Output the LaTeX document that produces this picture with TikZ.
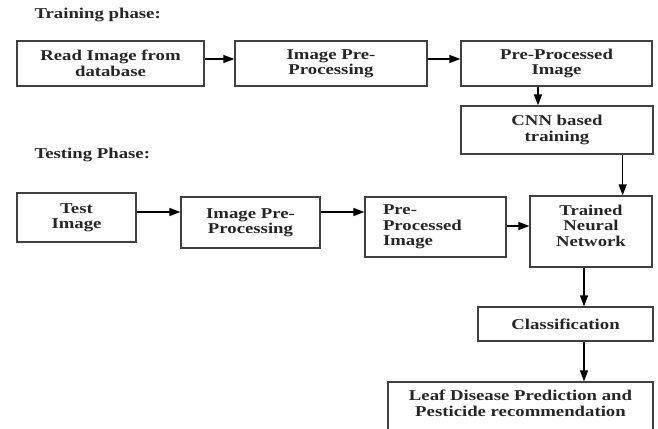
\documentclass[tikz,border=0pt]{standalone}
\usepackage{fontspec}
\setmainfont{Liberation Serif}[FakeStretch=1.25]
\usetikzlibrary{arrows.meta}

\tikzset{
  box/.style={draw=black!75, line width=1.3pt, align=center, inner sep=0pt,
    font=\bfseries\fontsize{15}{15.5}\selectfont, text=black!85},
  flow/.style={line width=1.3pt, -{Triangle[length=11pt,width=8pt]}},
  phase/.style={anchor=base west, font=\bfseries\fontsize{15}{16}\selectfont, text=black!85}
}

\begin{document}
\begin{tikzpicture}[x=1pt, y=-1pt]
  \useasboundingbox (0,0) rectangle (658,428);

  % training
  \node[phase] (train) at (31,19) {Training phase:};
  \node[box, minimum width=187pt, minimum height=45pt] (read) at (110.5,63.5) {Read Image from\\database};
  \node[box, minimum width=192pt, minimum height=45pt] (prep) at (331,63.5) {Image Pre-\\Processing};
  \node[box, minimum width=191pt, minimum height=45pt] (pproc) at (556.5,63.5) {Pre-Processed\\Image};
  \node[box, minimum width=192pt, minimum height=48pt] (cnn) at (557,130) {CNN based\\training};

  % testing
  \node[phase] (test) at (31,158) {Testing Phase:};
  \node[box, minimum width=119pt, minimum height=49pt] (timg) at (76.5,217.5) {Test\\Image};
  \node[box, minimum width=139pt, minimum height=51pt] (tprep) at (250.5,222.5) {Image Pre-\\Processing};
  \node[box, minimum width=141pt, minimum height=60pt, text width=105pt, align=left] (tproc) at (435.5,227) {Pre-\\Processed\\Image};
  \node[box, minimum width=122pt, minimum height=71pt, text depth=11.5pt] (tnn) at (591,231.5) {Trained\\Neural\\Network};
  \node[box, minimum width=175pt, minimum height=34pt] (cls) at (565.5,324) {Classification};
  \node[box, minimum width=265pt, minimum height=53pt, text depth=11pt] (leaf) at (520.5,408.5) {Leaf Disease Prediction and\\Pesticide recommendation};

  \draw[flow] ([yshift=4.5pt]read.east) -- ([yshift=4.5pt]read.east -| prep.west);
  \draw[flow] ([yshift=4.5pt]prep.east) -- ([yshift=4.5pt]prep.east -| pproc.west);
  \draw[flow] ([xshift=-18.5pt]pproc.south) -- ([xshift=-18.5pt]pproc.south |- cnn.north);
  \draw[flow] ([xshift=-31pt]cnn.south east) -- ([xshift=-30pt]tnn.north east);

  \draw[flow] ([yshift=5.5pt]timg.east) -- ([yshift=5.5pt]timg.east -| tprep.west);
  \draw[flow] ([yshift=10.5pt]tprep.east) -- ([yshift=10.5pt]tprep.east -| tproc.west);
  \draw[flow] ([yshift=1pt]tproc.east) -- ([yshift=1pt]tproc.east -| tnn.west);
  \draw[flow] ([xshift=-7pt]tnn.south) -- ([xshift=-7pt]tnn.south |- cls.north);
  \draw[flow] ([xshift=-7pt]tnn.south |- cls.south) -- ([xshift=-7pt]tnn.south |- leaf.north);
\end{tikzpicture}
\end{document}
